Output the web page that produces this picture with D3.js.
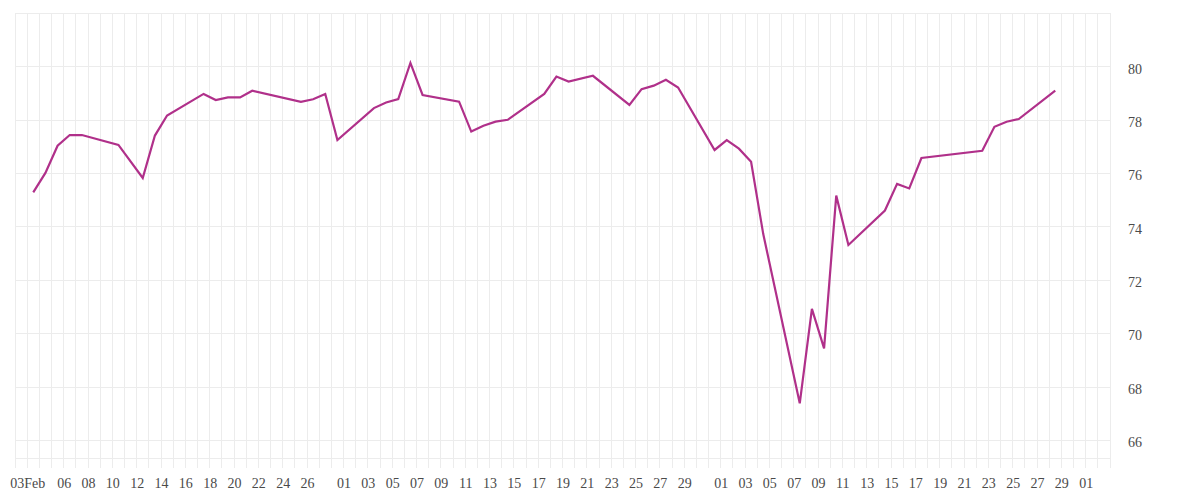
<!DOCTYPE html>
<html>
<head>
<meta charset="utf-8">
<script src="https://cdn.jsdelivr.net/npm/d3@7"></script>
<style>
  html, body { margin: 0; padding: 0; background: #fff; }
  svg { display: block; }
  .lbl text { font-family: "Liberation Serif", "Times New Roman", serif; font-size: 14px; fill: #4a4a4a; }
</style>
</head>
<body>
<svg id="chart" width="1200" height="500"></svg>
<script>
// ---- data ----
const dates = [
  "2025-02-03","2025-02-04","2025-02-05","2025-02-06","2025-02-07",
  "2025-02-10","2025-02-12","2025-02-13","2025-02-14",
  "2025-02-17","2025-02-18","2025-02-19","2025-02-20","2025-02-21",
  "2025-02-25","2025-02-26","2025-02-27","2025-02-28",
  "2025-03-03","2025-03-04","2025-03-05","2025-03-06","2025-03-07",
  "2025-03-10","2025-03-11","2025-03-12","2025-03-13","2025-03-14",
  "2025-03-17","2025-03-18","2025-03-19","2025-03-21",
  "2025-03-24","2025-03-25","2025-03-26","2025-03-27","2025-03-28",
  "2025-03-31","2025-04-01","2025-04-02","2025-04-03","2025-04-04",
  "2025-04-07","2025-04-08","2025-04-09","2025-04-10","2025-04-11",
  "2025-04-14","2025-04-15","2025-04-16","2025-04-17",
  "2025-04-22","2025-04-23","2025-04-24","2025-04-25",
  "2025-04-28"
];
const values = [
  75.29, 76.02, 77.04, 77.44, 77.44,
  77.07, 75.83, 77.42, 78.17,
  78.98, 78.75, 78.85, 78.85, 79.10,
  78.68, 78.78, 78.98, 77.25,
  78.45, 78.66, 78.79, 80.14, 78.94,
  78.69, 77.57, 77.79, 77.94, 78.01,
  78.98, 79.63, 79.44, 79.66,
  78.57, 79.16, 79.29, 79.51, 79.22,
  76.88, 77.25, 76.93, 76.44, 73.73,
  67.39, 70.93, 69.45, 75.17, 73.32,
  74.61, 75.61, 75.44, 76.58,
  76.85, 77.75, 77.94, 78.04,
  79.10
];
const xTickDates = [
  "2025-02-03","2025-02-06","2025-02-08","2025-02-10","2025-02-12","2025-02-14",
  "2025-02-16","2025-02-18","2025-02-20","2025-02-22","2025-02-24","2025-02-26",
  "2025-03-01","2025-03-03","2025-03-05","2025-03-07","2025-03-09","2025-03-11",
  "2025-03-13","2025-03-15","2025-03-17","2025-03-19","2025-03-21","2025-03-23",
  "2025-03-25","2025-03-27","2025-03-29",
  "2025-04-01","2025-04-03","2025-04-05","2025-04-07","2025-04-09","2025-04-11",
  "2025-04-13","2025-04-15","2025-04-17","2025-04-19","2025-04-21","2025-04-23",
  "2025-04-25","2025-04-27","2025-04-29","2025-05-01"
];
const xTickLabels = [
  "03Feb","06","08","10","12","14","16","18","20","22","24","26",
  "01","03","05","07","09","11","13","15","17","19","21","23","25","27","29",
  "01","03","05","07","09","11","13","15","17","19","21","23","25","27","29","01"
];
const yTicks = [66, 68, 70, 72, 74, 76, 78, 80, 82];
const yTickLabels = ["66","68","70","72","74","76","78","80",""];

// ---- layout ----
const plotL = 15, plotR = 1110, plotT = 13.3, plotB = 458.3, tickEnd = 468;
const svg = d3.select("#chart");
const parse = d3.utcParse("%Y-%m-%d");

const x = d3.scaleUtc()
  .domain([parse("2025-02-02"), parse("2025-05-03")])
  .range([plotL, plotR]);
const y = d3.scaleLinear()
  .domain([65.33, 82])
  .range([plotB, plotT]);

const data = dates.map((d, i) => ({ t: d3.utcHour.offset(parse(d), 12), v: values[i] }));

// grid
const grid = svg.append("g").attr("stroke", "#ececec").attr("stroke-width", 1).attr("shape-rendering", "crispEdges");
grid.selectAll("line.v")
  .data(d3.utcDay.range(parse("2025-02-02"), d3.utcDay.offset(parse("2025-05-03"), 1)))
  .join("line")
  .attr("class", "v")
  .attr("x1", d => x(d)).attr("x2", d => x(d))
  .attr("y1", plotT).attr("y2", tickEnd);
grid.selectAll("line.h")
  .data(yTicks)
  .join("line")
  .attr("class", "h")
  .attr("x1", plotL).attr("x2", plotR)
  .attr("y1", d => y(d)).attr("y2", d => y(d));
grid.append("line")
  .attr("x1", plotL).attr("x2", plotR)
  .attr("y1", plotB).attr("y2", plotB);

// axes (labels only)
const xAxis = d3.axisBottom(x)
  .tickValues(xTickDates.map(parse))
  .tickFormat((d, i) => xTickLabels[i])
  .tickSize(0)
  .tickPadding(19.8);
const gx = svg.append("g").attr("class", "lbl")
  .attr("transform", `translate(0,${plotB})`)
  .call(xAxis);
gx.select(".domain").remove();
gx.attr("font-family", null).attr("font-size", null);
gx.selectAll("text").attr("fill", null);

const yAxis = d3.axisRight(y)
  .tickValues(yTicks)
  .tickFormat((d, i) => yTickLabels[i])
  .tickSize(0)
  .tickPadding(18);
const gy = svg.append("g").attr("class", "lbl")
  .attr("transform", `translate(${plotR},0)`)
  .call(yAxis);
gy.select(".domain").remove();
gy.attr("font-family", null).attr("font-size", null);
gy.selectAll("text").attr("dy", "0.45em").attr("fill", null);

// line
const line = d3.line().x(d => x(d.t)).y(d => y(d.v));
svg.append("path")
  .datum(data)
  .attr("fill", "none")
  .attr("stroke", "#b0308a")
  .attr("stroke-width", 2.2)
  .attr("stroke-linejoin", "miter")
  .attr("d", line);
</script>
</body>
</html>
